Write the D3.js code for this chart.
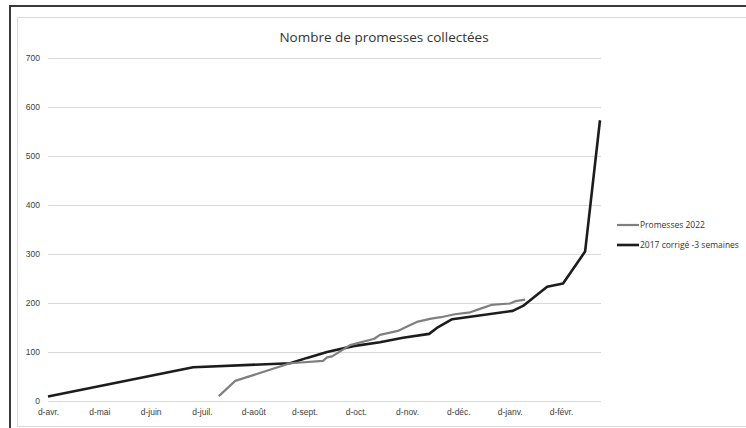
<!DOCTYPE html>
<html>
<head>
<meta charset="utf-8">
<script src="https://cdn.jsdelivr.net/npm/d3@7"></script>
<style>
  body { margin: 0; background: #fff; }
  svg { display: block; font-family: "Open Sans", "Noto Sans", sans-serif; }
  .tick text { fill: #404040; font-size: 8.5px; }
</style>
</head>
<body>
<svg id="chart" width="746" height="428"></svg>
<script>
// month labels (month index 0 = avril)
var monthLabels = ["d-avr.", "d-mai", "d-juin", "d-juil.", "d-août", "d-sept.", "d-oct.", "d-nov.", "d-déc.", "d-janv.", "d-févr."];
var yTicks = [0, 100, 200, 300, 400, 500, 600, 700];

// Promesses 2022 : position in months since 1 April, value
var promMonths = [3.33, 3.65, 4.72, 5.36, 5.44, 5.54, 5.89, 6.36, 6.47, 6.82, 6.98, 7.21, 7.47, 7.66, 7.93, 8.23, 8.42, 8.64, 9.01, 9.12, 9.30];
var promValues = [10, 41, 77, 82, 89, 91, 114, 127, 135, 143, 151, 162, 168, 171, 177, 181, 188, 196, 199, 204, 207];

// 2017 corrigé -3 semaines
var refMonths = [0, 2.83, 4.72, 5.05, 5.44, 5.95, 6.47, 6.92, 7.43, 7.58, 7.88, 9.06, 9.26, 9.73, 10.04, 10.47, 10.76];
var refValues = [9, 69, 77, 88, 100, 112, 120, 129, 137, 149, 167, 184, 194, 233, 240, 305, 573];

var seriesNames = ["Promesses 2022", "2017 corrigé -3 semaines"];
var seriesColors = ["#7f7f7f", "#1c1c1c"];

var svg = d3.select("#chart");

// frames
svg.append("rect").attr("x", 10).attr("y", 6).attr("width", 760).attr("height", 440)
  .attr("fill", "none").attr("stroke", "#3a3a3a").attr("stroke-width", 2);
svg.append("rect").attr("x", 17.5).attr("y", 17.5).attr("width", 760).attr("height", 409)
  .attr("fill", "none").attr("stroke", "#d9d9d9").attr("stroke-width", 1);

var x = d3.scaleLinear().domain([0, 10.78]).range([48, 601]);
var y = d3.scaleLinear().domain([0, 700]).range([401, 58]);

// gridlines + y axis
var yAxis = d3.axisLeft(y).tickValues(yTicks).tickSize(-(601 - 48)).tickPadding(8);
var gY = svg.append("g").attr("transform", "translate(48,0)").call(yAxis);
gY.select(".domain").remove();
gY.selectAll(".tick line").attr("stroke", "#d9d9d9").attr("stroke-width", 1.2);

// x axis labels
var xAxis = d3.axisBottom(x).tickValues(d3.range(monthLabels.length))
  .tickFormat(function (d) { return monthLabels[d]; }).tickSize(0).tickPadding(8);
var gX = svg.append("g").attr("transform", "translate(0,401)").call(xAxis);
gX.select(".domain").remove();

var line = d3.line()
  .x(function (d) { return x(d[0]); })
  .y(function (d) { return y(d[1]); });

var promData = promMonths.map(function (m, i) { return [m, promValues[i]]; });
var refData = refMonths.map(function (m, i) { return [m, refValues[i]]; });

svg.append("path").datum(refData)
  .attr("fill", "none").attr("stroke", seriesColors[1]).attr("stroke-width", 2.6)
  .attr("stroke-linejoin", "round").attr("d", line);
svg.append("path").datum(promData)
  .attr("fill", "none").attr("stroke", seriesColors[0]).attr("stroke-width", 2.2)
  .attr("stroke-linejoin", "round").attr("d", line);

// title
svg.append("text").attr("x", 384).attr("y", 42).attr("text-anchor", "middle")
  .attr("font-size", "13.5px").attr("fill", "#333")
  .text("Nombre de promesses collectées");

// legend
var legend = svg.append("g").attr("transform", "translate(617,225)");
seriesNames.forEach(function (name, i) {
  var g = legend.append("g").attr("transform", "translate(0," + (i * 20) + ")");
  g.append("line").attr("x1", 0).attr("x2", 22).attr("y1", 0).attr("y2", 0)
    .attr("stroke", seriesColors[i]).attr("stroke-width", i === 1 ? 2.6 : 2.2);
  g.append("text").attr("x", 23).attr("y", 3).attr("font-size", "8.5px")
    .attr("fill", "#333").text(name);
});
</script>
</body>
</html>
